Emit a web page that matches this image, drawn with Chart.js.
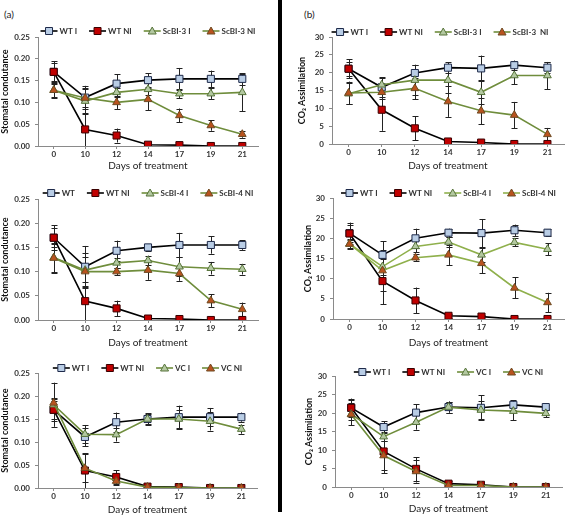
<!DOCTYPE html>
<html>
<head>
<meta charset="utf-8">
<script src="https://cdn.jsdelivr.net/npm/chart.js@4.4.1/dist/chart.umd.min.js"></script>
<style>
  body { margin: 0; background: #fff; }
  #wrap { position: relative; width: 570px; height: 517px; overflow: hidden; font-family: Lato, "Open Sans", sans-serif; }
  .panel { position: absolute; }
  .tag { position: absolute; font-size: 10px; color: #222; }
  #divider { position: absolute; left: 278px; top: 0; width: 4px; height: 512px; background: #000; }
</style>
</head>
<body>
<div id="wrap">
  <div class="tag" style="left:4px;top:8px">(a)</div>
  <div class="tag" style="left:304px;top:8px">(b)</div>
  <div id="divider"></div>
  <div class="panel" style="left:0;top:0;width:276px;height:172px"><canvas id="c1"></canvas></div>
  <div class="panel" style="left:285px;top:0;width:285px;height:172px"><canvas id="c2"></canvas></div>
  <div class="panel" style="left:0;top:172px;width:276px;height:177px"><canvas id="c3"></canvas></div>
  <div class="panel" style="left:285px;top:172px;width:285px;height:177px"><canvas id="c4"></canvas></div>
  <div class="panel" style="left:0;top:350px;width:276px;height:166px"><canvas id="c5"></canvas></div>
  <div class="panel" style="left:285px;top:350px;width:285px;height:165px"><canvas id="c6"></canvas></div>
</div>
<script>
const days = ['0', '10', '12', '14', '17', '19', '21'];

// (a) top: stomatal conductance, ScBI-3
const gs3WtI = [0.170, 0.111, 0.143, 0.151, 0.154, 0.154, 0.154];
const gs3WtIErr = [0.025, 0.027, 0.021, 0.016, 0.025, 0.019, 0.013];
const gs3WtNI = [0.170, 0.038, 0.024, 0.003, 0.002, 0.000, 0.000];
const gs3WtNIErr = [0.020, 0.038, 0.016, 0.002, 0.001, 0.000, 0.000];
const gs3ScI = [0.128, 0.103, 0.123, 0.130, 0.120, 0.120, 0.123];
const gs3ScIErr = [0.018, 0.030, 0.010, 0.014, 0.010, 0.012, 0.043];
const gs3ScNI = [0.128, 0.110, 0.100, 0.107, 0.070, 0.047, 0.027];
const gs3ScNIErr = [0.015, 0.020, 0.015, 0.025, 0.016, 0.012, 0.008];

// (b) top: CO2 assimilation, ScBI-3
const a3WtI = [21.1, 15.9, 19.9, 21.4, 21.2, 22.1, 21.4];
const a3WtIErr = [2.6, 2.8, 2.3, 1.5, 3.6, 1.3, 1.5];
const a3WtNI = [21.1, 9.6, 4.4, 0.7, 0.4, 0.0, 0.0];
const a3WtNIErr = [2.0, 5.9, 3.4, 0.8, 0.3, 0.0, 0.0];
const a3ScI = [14.1, 16.6, 17.9, 17.9, 14.5, 19.2, 19.2];
const a3ScIErr = [3.0, 2.0, 4.3, 3.5, 3.4, 2.5, 3.8];
const a3ScNI = [14.3, 14.5, 15.6, 11.9, 9.3, 8.1, 2.7];
const a3ScNIErr = [3.2, 2.0, 3.0, 4.3, 3.7, 3.7, 1.8];

// (a) middle: stomatal conductance, ScBI-4
const gs4WtI = [0.170, 0.110, 0.143, 0.150, 0.155, 0.155, 0.155];
const gs4WtIErr = [0.026, 0.043, 0.021, 0.007, 0.025, 0.018, 0.010];
const gs4WtNI = [0.170, 0.039, 0.024, 0.003, 0.002, 0.000, 0.000];
const gs4WtNIErr = [0.020, 0.039, 0.016, 0.002, 0.001, 0.000, 0.000];
const gs4ScI = [0.129, 0.103, 0.118, 0.123, 0.110, 0.107, 0.105];
const gs4ScIErr = [0.030, 0.035, 0.010, 0.010, 0.020, 0.013, 0.011];
const gs4ScNI = [0.128, 0.100, 0.100, 0.103, 0.096, 0.040, 0.022];
const gs4ScNIErr = [0.030, 0.030, 0.008, 0.020, 0.015, 0.013, 0.014];

// (b) middle: CO2 assimilation, ScBI-4
const a4WtI = [21.3, 15.9, 20.0, 21.4, 21.3, 22.0, 21.4];
const a4WtIErr = [2.6, 3.4, 2.4, 1.0, 3.5, 1.4, 0.8];
const a4WtNI = [21.2, 9.4, 4.6, 0.8, 0.6, 0.0, 0.0];
const a4WtNIErr = [2.0, 5.7, 3.2, 0.5, 0.4, 0.0, 0.0];
const a4ScI = [18.6, 13.0, 18.0, 19.1, 15.9, 19.0, 17.3];
const a4ScIErr = [1.3, 2.0, 1.5, 1.3, 1.8, 1.0, 1.5];
const a4ScNI = [18.6, 12.0, 15.2, 15.9, 13.8, 7.7, 4.1];
const a4ScNIErr = [1.0, 5.0, 0.8, 2.5, 2.5, 2.6, 2.4];

// (a) bottom: stomatal conductance, VC
const gsVcWtI = [0.170, 0.111, 0.143, 0.150, 0.154, 0.154, 0.154];
const gsVcWtIErr = [0.024, 0.020, 0.021, 0.010, 0.025, 0.020, 0.010];
const gsVcWtNI = [0.170, 0.038, 0.024, 0.003, 0.002, 0.000, 0.000];
const gsVcWtNIErr = [0.020, 0.038, 0.015, 0.002, 0.001, 0.000, 0.000];
const gsVcI = [0.181, 0.117, 0.116, 0.150, 0.150, 0.145, 0.128];
const gsVcIErr = [0.048, 0.020, 0.015, 0.013, 0.020, 0.020, 0.010];
const gsVcNI = [0.185, 0.043, 0.015, 0.002, 0.001, 0.000, 0.000];
const gsVcNIErr = [0.010, 0.030, 0.008, 0.002, 0.001, 0.000, 0.000];

// (b) bottom: CO2 assimilation, VC
const aVcWtI = [21.4, 16.2, 20.1, 21.6, 21.4, 22.2, 21.6];
const aVcWtIErr = [2.5, 1.6, 2.3, 1.5, 3.4, 1.3, 0.5];
const aVcWtNI = [21.4, 9.6, 4.9, 0.9, 0.6, 0.0, 0.0];
const aVcWtNIErr = [2.0, 5.8, 3.2, 0.8, 0.4, 0.0, 0.0];
const aVcI = [19.7, 13.6, 17.5, 21.6, 20.8, 20.5, 19.9];
const aVcIErr = [3.0, 1.3, 2.0, 1.5, 2.5, 2.5, 1.0];
const aVcNI = [19.6, 8.5, 4.2, 0.4, 0.4, 0.0, 0.0];
const aVcNIErr = [1.5, 4.0, 3.0, 0.5, 0.3, 0.0, 0.0];

// colores
const axisColor = '#8a8a8a';
const textColor = '#333';
const oliveDark = '#6f8d3c';
const oliveLight = '#8fb04c';

function serie(label, data, err, kind, lineColor) {
  const estilos = {
    wtI: { fill: '#b9cde5', border: '#1e2a4a', style: 'rect', r: 5 },
    wtNI: { fill: '#c00000', border: '#3a0000', style: 'rect', r: 5 },
    scI: { fill: '#b3c8a0', border: '#56733a', style: 'triangle', r: 4.5 },
    scNI: { fill: '#b9531e', border: '#6e4a22', style: 'triangle', r: 4.5 }
  };
  const e = estilos[kind];
  return {
    label: label,
    data: data,
    err: err,
    borderColor: lineColor,
    borderWidth: 1.6,
    pointStyle: e.style,
    pointRadius: e.r,
    pointBackgroundColor: e.fill,
    pointBorderColor: e.border,
    pointBorderWidth: 1,
    tension: 0,
    fill: false
  };
}

// Barras de error
const errorBars = {
  id: 'errorBars',
  beforeDatasetsDraw(chart) {
    const ctx = chart.ctx;
    const y = chart.scales.y;
    const area = chart.chartArea;
    ctx.save();
    ctx.strokeStyle = '#222';
    ctx.lineWidth = 1;
    chart.data.datasets.forEach((ds, i) => {
      const meta = chart.getDatasetMeta(i);
      meta.data.forEach((pt, j) => {
        const e = ds.err[j];
        if (!e) return;
        const v = ds.data[j];
        const top = y.getPixelForValue(v + e);
        const bot = Math.min(y.getPixelForValue(v - e), area.bottom);
        const x = Math.round(pt.x) + 0.5;
        ctx.beginPath();
        ctx.moveTo(x, top);
        ctx.lineTo(x, bot);
        ctx.moveTo(x - 3, Math.round(top) + 0.5);
        ctx.lineTo(x + 3, Math.round(top) + 0.5);
        if (bot < area.bottom - 1) {
          ctx.moveTo(x - 3, Math.round(bot) + 0.5);
          ctx.lineTo(x + 3, Math.round(bot) + 0.5);
        }
        ctx.stroke();
      });
    });
    ctx.restore();
  }
};

// Leyenda con linea y marcador
const lineLegend = {
  id: 'lineLegend',
  afterDraw(chart, args, opts) {
    const ctx = chart.ctx;
    ctx.save();
    ctx.font = 'bold 8px Lato';
    const segLen = 17;
    const gap = 12;
    const items = chart.data.datasets.map(ds => ({ ds: ds, w: segLen + 2 + ctx.measureText(ds.label).width }));
    const total = items.reduce((s, it) => s + it.w, 0) + gap * (items.length - 1);
    let x = (chart.chartArea.left + chart.chartArea.right) / 2 - total / 2 + (opts.shift || 0);
    const y = opts.y;
    items.forEach(it => {
      const ds = it.ds;
      ctx.strokeStyle = ds.borderColor;
      ctx.lineWidth = 1.6;
      ctx.beginPath();
      ctx.moveTo(x, y);
      ctx.lineTo(x + segLen, y);
      ctx.stroke();
      const cx = x + segLen / 2;
      ctx.fillStyle = ds.pointBackgroundColor;
      ctx.strokeStyle = ds.pointBorderColor;
      ctx.lineWidth = 1;
      ctx.beginPath();
      if (ds.pointStyle === 'rect') {
        ctx.rect(cx - 3.5, y - 3.5, 7, 7);
      } else {
        ctx.moveTo(cx, y - 4);
        ctx.lineTo(cx + 4, y + 3);
        ctx.lineTo(cx - 4, y + 3);
        ctx.closePath();
      }
      ctx.fill();
      ctx.stroke();
      ctx.fillStyle = textColor;
      ctx.textBaseline = 'middle';
      ctx.fillText(ds.label, x + segLen + 2, y);
      x += it.w + gap;
    });
    ctx.restore();
  }
};

function panel(id, cfg) {
  const datasets = [
    serie(cfg.labels[0], cfg.wtI, cfg.wtIErr, 'wtI', '#000'),
    serie(cfg.labels[1], cfg.wtNI, cfg.wtNIErr, 'wtNI', '#000'),
    serie(cfg.labels[2], cfg.scI, cfg.scIErr, 'scI', cfg.green),
    serie(cfg.labels[3], cfg.scNI, cfg.scNIErr, 'scNI', cfg.green)
  ];
  // el ultimo encima, como en Excel
  datasets.forEach((d, i) => { d.order = 3 - i; });

  new Chart(document.getElementById(id), {
    type: 'line',
    data: { labels: days, datasets: datasets },
    options: {
      responsive: true,
      maintainAspectRatio: false,
      animation: false,
      events: [],
      layout: { padding: { left: cfg.padLeft, top: cfg.top, right: cfg.padRight, bottom: 0 } },
      plugins: {
        legend: { display: false },
        tooltip: { enabled: false },
        lineLegend: { y: cfg.legendY, shift: cfg.shift || 0 }
      },
      scales: {
        x: {
          offset: true,
          grid: { drawOnChartArea: false, color: axisColor, tickLength: 3 },
          border: { color: axisColor, width: 1 },
          ticks: { color: textColor, font: { family: 'Lato', size: 8, weight: 'bold' }, padding: 1, maxRotation: 0 },
          title: { display: true, text: 'Days of treatment', color: '#222', font: { family: 'Lato', size: 10 }, padding: 0 },
          afterFit: s => { s.height = cfg.xH; }
        },
        y: {
          min: 0,
          max: cfg.max,
          grid: { drawOnChartArea: false, color: axisColor, tickLength: 3 },
          border: { color: axisColor, width: 1 },
          ticks: {
            stepSize: cfg.step,
            color: textColor,
            font: { family: 'Lato', size: 8, weight: 'bold' },
            padding: 5,
            callback: v => cfg.dec ? Number(v).toFixed(2) : v
          },
          title: { display: true, text: cfg.yTitle, color: '#111', font: { family: 'Lato', size: 9, weight: 'bold' }, padding: 0 },
          afterFit: s => { s.width = cfg.yW; }
        }
      }
    },
    plugins: [errorBars, lineLegend]
  });
}

const gsBase = { max: 0.25, step: 0.05, dec: true, yTitle: 'Stomatal condutance', padLeft: 0, yW: 38, padRight: 18, green: oliveDark };
const aBase = { max: 30, step: 5, dec: false, yTitle: 'CO\u2082 Assimilation', green: oliveDark };

panel('c1', Object.assign({}, gsBase, {
  labels: ['WT I', 'WT NI', 'ScBI-3 I', 'ScBI-3 NI'],
  wtI: gs3WtI, wtIErr: gs3WtIErr, wtNI: gs3WtNI, wtNIErr: gs3WtNIErr,
  scI: gs3ScI, scIErr: gs3ScIErr, scNI: gs3ScNI, scNIErr: gs3ScNIErr,
  top: 37, xH: 26, legendY: 31
}));

panel('c2', Object.assign({}, aBase, {
  labels: ['WT I', 'WT NI', 'ScBI-3 I', 'ScBI-3  NI'],
  wtI: a3WtI, wtIErr: a3WtIErr, wtNI: a3WtNI, wtNIErr: a3WtNIErr,
  scI: a3ScI, scIErr: a3ScIErr, scNI: a3ScNI, scNIErr: a3ScNIErr,
  padLeft: 12, yW: 35, padRight: 2, top: 37, xH: 28, legendY: 32, shift: -8
}));

panel('c3', Object.assign({}, gsBase, {
  labels: ['WT', 'WT NI', 'ScBI-4 I', 'ScBI-4 NI'],
  wtI: gs4WtI, wtIErr: gs4WtIErr, wtNI: gs4WtNI, wtNIErr: gs4WtNIErr,
  scI: gs4ScI, scIErr: gs4ScIErr, scNI: gs4ScNI, scNIErr: gs4ScNIErr,
  top: 27, xH: 29, legendY: 21
}));

panel('c4', Object.assign({}, aBase, {
  labels: ['WT I', 'WT NI', 'ScBI-4 I', 'ScBI-4 NI'],
  wtI: a4WtI, wtIErr: a4WtIErr, wtNI: a4WtNI, wtNIErr: a4WtNIErr,
  scI: a4ScI, scIErr: a4ScIErr, scNI: a4ScNI, scNIErr: a4ScNIErr,
  padLeft: 18, yW: 30, padRight: 1, top: 26, xH: 30, legendY: 21, green: oliveLight
}));

panel('c5', Object.assign({}, gsBase, {
  labels: ['WT I', 'WT NI', 'VC I', 'VC NI'],
  wtI: gsVcWtI, wtIErr: gsVcWtIErr, wtNI: gsVcWtNI, wtNIErr: gsVcWtNIErr,
  scI: gsVcI, scIErr: gsVcIErr, scNI: gsVcNI, scNIErr: gsVcNIErr,
  top: 23, xH: 28, legendY: 18, padRight: 19
}));

panel('c6', Object.assign({}, aBase, {
  labels: ['WT I', 'WT NI', 'VC I', 'VC NI'],
  wtI: aVcWtI, wtIErr: aVcWtIErr, wtNI: aVcWtNI, wtNIErr: aVcWtNIErr,
  scI: aVcI, scIErr: aVcIErr, scNI: aVcNI, scNIErr: aVcNIErr,
  padLeft: 19, yW: 31, padRight: 8, top: 26, xH: 28, legendY: 22
}));
</script>
</body>
</html>
